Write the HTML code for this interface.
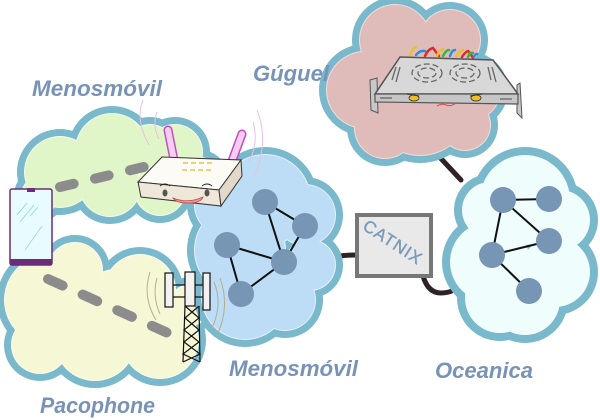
<!DOCTYPE html>
<html><head><meta charset="utf-8"><style>
html,body{margin:0;padding:0;background:#fff;}
svg{display:block;}
.lbl{font-family:"Liberation Sans",sans-serif;font-weight:bold;font-style:italic;fill:#7893b5;font-size:22px;}
</style></head><body>
<svg width="600" height="420" viewBox="0 0 600 420" xmlns="http://www.w3.org/2000/svg">
<!-- connectors -->
<g stroke="#2e2222" stroke-width="5" fill="none" stroke-linecap="round">
<path d="M433,150 L461,180"/>
<path d="M330,258 Q340,255 357,255"/>
<path d="M423,276 Q428,293 441,293 Q454,293 463,283"/>
</g>

<!-- green cloud -->
<g fill="#7ab8cb">
<circle cx="60" cy="172" r="43"/><circle cx="112" cy="150" r="44"/><circle cx="175" cy="152" r="35"/><circle cx="110" cy="186" r="38"/><circle cx="160" cy="190" r="33"/><circle cx="200" cy="178" r="28"/><circle cx="150" cy="150" r="33"/><circle cx="40" cy="195" r="26"/>
</g>
<g fill="#f4fbec">
<circle cx="60" cy="172" r="36"/><circle cx="112" cy="150" r="37"/><circle cx="175" cy="152" r="28"/><circle cx="110" cy="186" r="31"/><circle cx="160" cy="190" r="26"/><circle cx="200" cy="178" r="21"/><circle cx="150" cy="150" r="26"/><circle cx="40" cy="195" r="19"/>
</g>
<g fill="#e0f6c8">
<circle cx="60" cy="172" r="35"/><circle cx="112" cy="150" r="36"/><circle cx="175" cy="152" r="27"/><circle cx="110" cy="186" r="30"/><circle cx="160" cy="190" r="25"/><circle cx="200" cy="178" r="20"/><circle cx="150" cy="150" r="25"/><circle cx="40" cy="195" r="18"/>
</g>
<!-- green dashes -->
<path d="M60,187 L148,166" stroke="#8c8c8c" stroke-width="10" stroke-linecap="round" stroke-dasharray="14,22" fill="none"/>

<!-- yellow cloud -->
<g fill="#7ab8cb">
<circle cx="50" cy="300" r="53"/><circle cx="75" cy="270" r="35"/><circle cx="140" cy="290" r="43"/><circle cx="95" cy="340" r="48"/><circle cx="160" cy="340" r="46"/><circle cx="190" cy="305" r="28"/><circle cx="40" cy="345" r="36"/><circle cx="115" cy="300" r="38"/>
</g>
<g fill="#fcfdf0">
<circle cx="50" cy="300" r="46"/><circle cx="75" cy="270" r="28"/><circle cx="140" cy="290" r="36"/><circle cx="95" cy="340" r="41"/><circle cx="160" cy="340" r="39"/><circle cx="190" cy="305" r="21"/><circle cx="40" cy="345" r="29"/><circle cx="115" cy="300" r="31"/>
</g>
<g fill="#f6f8d5">
<circle cx="50" cy="300" r="45"/><circle cx="75" cy="270" r="27"/><circle cx="140" cy="290" r="35"/><circle cx="95" cy="340" r="40"/><circle cx="160" cy="340" r="38"/><circle cx="190" cy="305" r="20"/><circle cx="40" cy="345" r="28"/><circle cx="115" cy="300" r="30"/>
</g>
<path d="M48,279 L170,334" stroke="#8c8c8c" stroke-width="10" stroke-linecap="round" stroke-dasharray="16,22" fill="none"/>

<!-- blue cloud -->
<g fill="#7ab8cb">
<circle cx="265" cy="200" r="53"/><circle cx="305" cy="215" r="38"/><circle cx="310" cy="265" r="33"/><circle cx="240" cy="250" r="53"/><circle cx="245" cy="296" r="51"/><circle cx="285" cy="300" r="38"/><circle cx="225" cy="205" r="38"/>
</g>
<g fill="#e4f1fb">
<circle cx="265" cy="200" r="46"/><circle cx="305" cy="215" r="31"/><circle cx="310" cy="265" r="26"/><circle cx="240" cy="250" r="46"/><circle cx="245" cy="296" r="44"/><circle cx="285" cy="300" r="31"/><circle cx="225" cy="205" r="31"/>
</g>
<g fill="#bddcf5">
<circle cx="265" cy="200" r="45"/><circle cx="305" cy="215" r="30"/><circle cx="310" cy="265" r="25"/><circle cx="240" cy="250" r="45"/><circle cx="245" cy="296" r="43"/><circle cx="285" cy="300" r="30"/><circle cx="225" cy="205" r="30"/>
</g>
<g stroke="#111" stroke-width="2">
<line x1="265" y1="202" x2="305" y2="226"/><line x1="265" y1="202" x2="284" y2="262"/><line x1="305" y1="226" x2="284" y2="262"/><line x1="227" y1="245" x2="284" y2="262"/><line x1="227" y1="245" x2="241" y2="294"/><line x1="241" y1="294" x2="284" y2="262"/>
</g>
<g fill="#7795b4">
<circle cx="265" cy="202" r="13"/><circle cx="305" cy="226" r="13"/><circle cx="227" cy="245" r="13"/><circle cx="284" cy="262" r="13"/><circle cx="241" cy="294" r="13"/>
</g>

<!-- pink cloud -->
<g fill="#7ab8cb">
<circle cx="395" cy="40" r="43"/><circle cx="450" cy="40" r="38"/><circle cx="365" cy="90" r="46"/><circle cx="420" cy="105" r="58"/><circle cx="470" cy="90" r="38"/><circle cx="385" cy="128" r="38"/><circle cx="465" cy="125" r="33"/>
</g>
<g fill="#f0dede">
<circle cx="395" cy="40" r="36"/><circle cx="450" cy="40" r="31"/><circle cx="365" cy="90" r="39"/><circle cx="420" cy="105" r="51"/><circle cx="470" cy="90" r="31"/><circle cx="385" cy="128" r="31"/><circle cx="465" cy="125" r="26"/>
</g>
<g fill="#dfbcba">
<circle cx="395" cy="40" r="35"/><circle cx="450" cy="40" r="30"/><circle cx="365" cy="90" r="38"/><circle cx="420" cy="105" r="50"/><circle cx="470" cy="90" r="30"/><circle cx="385" cy="128" r="30"/><circle cx="465" cy="125" r="25"/>
</g>

<!-- oceanica cloud -->
<g fill="#7ab8cb">
<circle cx="525" cy="200" r="53"/><circle cx="560" cy="220" r="38"/><circle cx="490" cy="210" r="36"/><circle cx="490" cy="262" r="48"/><circle cx="555" cy="272" r="43"/><circle cx="525" cy="300" r="43"/><circle cx="500" cy="298" r="43"/>
</g>
<g fill="#effdfd">
<circle cx="525" cy="200" r="45"/><circle cx="560" cy="220" r="30"/><circle cx="490" cy="210" r="28"/><circle cx="490" cy="262" r="40"/><circle cx="555" cy="272" r="35"/><circle cx="525" cy="300" r="35"/><circle cx="500" cy="298" r="35"/>
</g>
<g stroke="#111" stroke-width="2">
<line x1="503" y1="200" x2="549" y2="199"/><line x1="503" y1="200" x2="549" y2="241"/><line x1="503" y1="200" x2="492" y2="255"/><line x1="492" y1="255" x2="549" y2="241"/><line x1="492" y1="255" x2="529" y2="291"/>
</g>
<g fill="#7795b4">
<circle cx="503" cy="200" r="13"/><circle cx="549" cy="199" r="13"/><circle cx="549" cy="241" r="13"/><circle cx="492" cy="255" r="13"/><circle cx="529" cy="291" r="13"/>
</g>

<!-- CATNIX -->
<rect x="357" y="215" width="74" height="61" fill="#e9e9e9" stroke="#777" stroke-width="4"/>
<text x="393" y="248" transform="rotate(33 393 242)" text-anchor="middle" font-family="Liberation Sans,sans-serif" font-size="17" fill="#7b9ab9" stroke="#7b9ab9" stroke-width="0.4" letter-spacing="1">CATNIX</text>

<!-- server -->
<g stroke-linecap="round" fill="none" stroke-width="2.5">
<path d="M410,55 q2,-6 6,-8" stroke="#e8c030"/>
<path d="M416,55 q4,-5 9,-4" stroke="#2a8ee0"/>
<path d="M425,56 q3,-7 8,-8 q3,4 6,8" stroke="#e02828"/>
<path d="M437,56 q2,-6 6,-7" stroke="#e8c030"/>
<path d="M443,56 q3,-6 6,-6" stroke="#3cb43c"/>
<path d="M450,56 q2,-6 5,-6" stroke="#2a8ee0"/>
<path d="M456,57 q3,-6 7,-7" stroke="#e8c030"/>
<path d="M462,57 q3,-5 6,-6 q3,3 5,7" stroke="#e02828"/>
<path d="M468,57 q2,-5 5,-4" stroke="#3cb43c"/>
<path d="M474,57 q1,-3 3,-3" stroke="#2a8ee0"/>
</g>
<polygon points="370,80 377,78 378,113 371,110" fill="#c8c8c8" stroke="#555" stroke-width="1"/>
<polygon points="517,85 520,83 522,118 517,113" fill="#c8c8c8" stroke="#555" stroke-width="1"/>
<polygon points="400,57 493,60 518,94 375,94" fill="#d8d8d8" stroke="#555" stroke-width="1.5"/>
<polygon points="375,94 518,94 518,104 375,102" fill="#c6c6c6" stroke="#555" stroke-width="1.2"/>
<g fill="none" stroke="#666" stroke-width="1.3" stroke-dasharray="6,3">
<ellipse cx="427" cy="73" rx="15" ry="9"/><ellipse cx="427" cy="73" rx="9" ry="5"/>
<ellipse cx="465" cy="73" rx="15" ry="9"/><ellipse cx="465" cy="73" rx="9" ry="5"/>
</g>
<g stroke="#666" stroke-width="1.3">
<line x1="396" y1="67" x2="392" y2="80"/><line x1="400" y1="67" x2="396" y2="82"/>
<line x1="488" y1="67" x2="491" y2="80"/><line x1="492" y1="67" x2="496" y2="82"/>
<line x1="380" y1="98" x2="392" y2="98"/><line x1="500" y1="99" x2="512" y2="99"/>
</g>
<ellipse cx="414" cy="98" rx="5" ry="3" fill="#f0c020" stroke="#333" stroke-width="0.8"/>
<ellipse cx="476" cy="98" rx="5" ry="3" fill="#f0c020" stroke="#333" stroke-width="0.8"/>
<path d="M407,94 l12,2 M470,96 l12,-2" stroke="#333" stroke-width="1"/>
<path d="M437,106 q5,-3 9,-1 q5,2 10,-2" stroke="#e04848" fill="none" stroke-width="1"/>

<!-- router signal arcs -->
<g fill="none" stroke="#e6c2df" stroke-width="1">
<path d="M143,100 q-8,20 6,45"/><path d="M157,112 q-5,14 2,27"/>
<path d="M257,110 q12,30 -2,65"/><path d="M253,122 q6,20 -4,40"/>
</g>
<!-- router -->
<line x1="168" y1="130" x2="174" y2="160" stroke="#c050c0" stroke-width="9" stroke-linecap="round"/>
<line x1="168" y1="130" x2="174" y2="160" stroke="#f5cdf0" stroke-width="6" stroke-linecap="round"/>
<line x1="242" y1="134" x2="232" y2="161" stroke="#c050c0" stroke-width="9" stroke-linecap="round"/>
<line x1="242" y1="134" x2="232" y2="161" stroke="#f5cdf0" stroke-width="6" stroke-linecap="round"/>
<polygon points="162,157 241,160 219,190 138,182" fill="#fcfbf5" stroke="#333" stroke-width="1"/>
<polygon points="138,182 219,190 221,206 141,197" fill="#efe8da" stroke="#333" stroke-width="1"/>
<polygon points="219,190 241,160 242,176 221,206" fill="#e2d9c8" stroke="#333" stroke-width="1"/>
<g stroke="#e8c44a" stroke-width="1.5">
<line x1="183" y1="163" x2="188" y2="163"/><line x1="191" y1="163" x2="196" y2="163"/><line x1="199" y1="163" x2="204" y2="163"/><line x1="207" y1="163" x2="212" y2="163"/>
<line x1="182" y1="170" x2="187" y2="170"/><line x1="190" y1="170" x2="195" y2="170"/><line x1="198" y1="170" x2="203" y2="170"/><line x1="206" y1="170" x2="211" y2="170"/>
</g>
<ellipse cx="165" cy="193" rx="2.5" ry="3.5" fill="#555"/>
<ellipse cx="207" cy="193" rx="2.5" ry="3.5" fill="#555"/>
<path d="M160,186 q5,-4 10,0 M202,186 q5,-4 10,0" stroke="#222" stroke-width="1" fill="none"/>
<path d="M173,198 q15,6 30,-1 q-2,6 -15,6 q-12,0 -15,-5z" fill="#f09a9a" stroke="#c04a4a" stroke-width="0.8"/>

<!-- tower signal -->
<g fill="none" stroke="#b7ad8c" stroke-width="1">
<path d="M150,272 q-8,25 6,48"/><path d="M157,278 q-5,18 3,36"/>
<path d="M214,282 q9,22 -2,46"/><path d="M220,278 q10,28 -2,55"/>
</g>
<!-- tower -->
<g stroke="#111" stroke-width="1.2" fill="none">
<line x1="173" y1="285" x2="203" y2="285"/><line x1="173" y1="297" x2="203" y2="297"/>
<line x1="185" y1="306" x2="183" y2="362"/><line x1="199" y1="306" x2="200" y2="362"/>
<path d="M185,306 L199,318 L184,330 L199,342 L183,354 L200,362 M199,306 L185,318 L199,330 L184,342 L200,354 L183,362"/>
</g>
<rect x="165" y="273" width="8" height="34" fill="#f2f2f2" stroke="#111" stroke-width="1.2"/>
<rect x="185" y="272" width="10" height="34" fill="#f2f2f2" stroke="#111" stroke-width="1.2"/>
<rect x="203" y="273" width="7" height="37" fill="#f2f2f2" stroke="#111" stroke-width="1.2"/>

<!-- phone -->
<rect x="10" y="189" width="42" height="76" rx="2" fill="#e9fcfd" stroke="#6b2d78" stroke-width="1.5"/>
<rect x="10" y="259" width="42" height="6" fill="#6b2d78"/>
<rect x="27" y="188" width="8" height="4" fill="#6b2d78"/>
<g stroke="#9fdde8" stroke-width="1">
<line x1="17" y1="215" x2="27" y2="203"/><line x1="20" y1="222" x2="34" y2="205"/><line x1="30" y1="216" x2="38" y2="207"/><line x1="25" y1="250" x2="42" y2="226"/>
</g>

<!-- labels -->
<text class="lbl" x="32" y="96" textLength="130" lengthAdjust="spacingAndGlyphs">Menosmóvil</text>
<text class="lbl" x="253" y="81" textLength="76" lengthAdjust="spacingAndGlyphs">Gúguel</text>
<text class="lbl" x="229" y="376" textLength="129" lengthAdjust="spacingAndGlyphs">Menosmóvil</text>
<text class="lbl" x="435" y="378" textLength="98" lengthAdjust="spacingAndGlyphs">Oceanica</text>
<text class="lbl" x="40" y="413" textLength="115" lengthAdjust="spacingAndGlyphs">Pacophone</text>
</svg>
</body></html>
